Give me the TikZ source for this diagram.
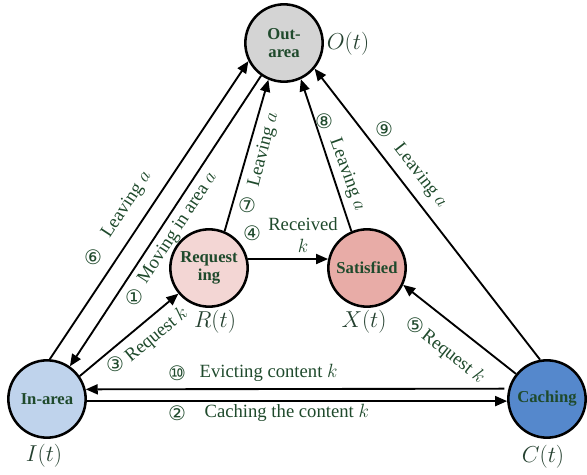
\documentclass[tikz,border=0pt]{standalone}
\usepackage{fontspec}
\setmainfont{Liberation Serif}
\newfontfamily\numfont{DejaVu Sans}
\usetikzlibrary{arrows.meta}
\definecolor{tg}{HTML}{1F4A2C}
\definecolor{vg}{HTML}{24402F}
\definecolor{outfill}{HTML}{D4D4D4}
\definecolor{reqfill}{HTML}{F3D6D4}
\definecolor{satfill}{HTML}{E8ACA7}
\definecolor{infill}{HTML}{BFD3EC}
\definecolor{cachfill}{HTML}{5588CC}
\tikzset{
  st/.style={circle, draw=black, line width=1.9pt, minimum size=58pt, inner sep=0pt,
    font=\fontsize{12.5}{13.5}\selectfont\bfseries, text=tg, align=center},
  arr/.style={line width=1.4pt, -{Triangle[length=9pt,width=7.5pt]}},
  lab/.style={font=\fontsize{14}{16}\selectfont, text=tg, inner sep=1pt},
  num/.style={font=\numfont\fontsize{15}{16}\selectfont, text=tg, inner sep=0pt},
  var/.style={font=\fontsize{17}{19}\selectfont, text=vg, inner sep=0pt}
}
\begin{document}
\begin{tikzpicture}[x=0.75pt, y=-0.75pt]
\useasboundingbox (0,0) rectangle (587,475);
% states
\node[st, fill=outfill] (Out) at (284,43) {Out-\\area};
\node[st, fill=reqfill] (Req) at (209,268) {Request\\ing};
\node[st, fill=satfill] (Sat) at (367,268) {Satisfied};
\node[st, fill=infill] (In) at (47,399) {In-area};
\node[st, fill=cachfill] (Cach) at (547,399) {Caching};
% variables
\node[var] (vO) at (348,44) {$O(t)$};
\node[var] (vR) at (215,322) {$R(t)$};
\node[var] (vX) at (364,322) {$X(t)$};
\node[var] (vI) at (44,456) {$I(t)$};
\node[var] (vC) at (543,457) {$C(t)$};
% connectors
\draw[arr] (In.86) -- (Out.207);
\draw[arr] (Out.235) -- (In.55);
\draw[arr] (In.35) -- (Req.220);
\draw[arr] (Req.67) -- (Out.247);
\draw[arr] (Req.13) -- (Sat.167);
\draw[arr] (Sat.113) -- (Out.295);
\draw[arr] (Cach.100) -- (Out.320);
\draw[arr] (Cach.141) -- (Sat.-25);
\draw[arr, shorten <=3pt] (Cach.165.5) -- (In.14.5);
\draw[arr] (In.-3) -- (Cach.183);
% labels
\node[num] (n6) at (93,257) {⑥};
\node[lab, rotate=56.7] (l6) at (127,205) {Leaving $a$};
\node[num] (n1) at (134,297) {①};
\node[lab, rotate=56.7] (l1) at (178,228) {Moving in area $a$};
\node[num] (n3) at (115,364) {③};
\node[lab, rotate=39.5] (l3) at (157,335) {Request $k$};
\node[num] (n7) at (247,205) {⑦};
\node[lab, rotate=75.4] (l7) at (264,150) {Leaving $a$};
\node[num] (n4) at (252,233) {④};
\node[lab, align=center] (l4) at (303,235) {Received\\$k$};
\node[num] (n8) at (324,121) {⑧};
\node[lab, rotate=-70] (l8) at (347,175) {Leaving $a$};
\node[num] (n9) at (384,129) {⑨};
\node[lab, rotate=-52.3] (l9) at (420,176) {Leaving $a$};
\node[num] (n5) at (415,325) {⑤};
\node[lab, rotate=-38.4] (l5) at (453,357) {Request $k$};
\node[num] (n10) at (177,373) {⑩};
\node[lab, anchor=west] (l10) at (198,373) {Evicting content $k$};
\node[num] (n2) at (177,413) {②};
\node[lab, anchor=west] (l2) at (203,413) {Caching the content $k$};
\end{tikzpicture}
\end{document}
